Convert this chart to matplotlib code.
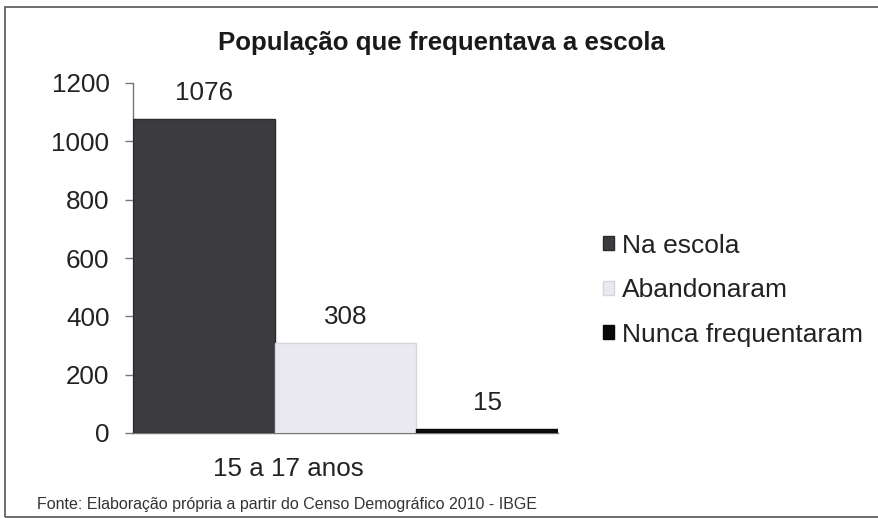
import matplotlib
matplotlib.use("Agg")
import matplotlib.pyplot as plt
from matplotlib.patches import Rectangle

plt.rcParams['font.family'] = ['Liberation Sans', 'DejaVu Sans']

title = "População que frequentava a escola"
category = "15 a 17 anos"
series = ["Na escola", "Abandonaram", "Nunca frequentaram"]
values = [1076, 308, 15]
colors = ["#3b3b40", "#e9e9ef", "#0a0a0a"]
edgecolors = ["#2a2a2e", "#d6d6dc", "#0a0a0a"]
yticks = [0, 200, 400, 600, 800, 1000, 1200]
source = "Fonte: Elaboração própria a partir do Censo Demográfico 2010 - IBGE"

W, H = 879, 518
fig = plt.figure(figsize=(W/100, H/100), dpi=100)
fig.patch.set_facecolor("white")

# outer frame
fig.patches.append(Rectangle((5/W, 1-517/H), 1.0, (517-7)/H, transform=fig.transFigure,
                             fill=False, edgecolor="#555555", linewidth=1.2))

FS = 18.7
ax = fig.add_axes([133/W, 1-433/H, 425/W, 350/H])
xs = list(range(len(values)))
bars = ax.bar(xs, values, width=1.0, color=colors, edgecolor=edgecolors, linewidth=1,
              label=series, zorder=3)
ax.set_xlim(-0.5, len(values) - 0.5)
ax.set_ylim(0, 1200)
ax.set_yticks(yticks)
ax.set_yticklabels([str(t) for t in yticks], fontsize=FS, color="#222222")
ax.tick_params(axis='y', direction='out', length=6, width=1, color="#777777", pad=11)
ax.set_xticks([0.6])
ax.set_xticklabels([category], fontsize=FS, color="#222222")
ax.tick_params(axis='x', length=0, pad=17)
for s in ["top", "right"]:
    ax.spines[s].set_visible(False)
for s in ["left", "bottom"]:
    ax.spines[s].set_color("#777777")
    ax.spines[s].set_linewidth(1)

for x, v in zip(xs, values):
    ax.annotate(str(v), (x, v), xytext=(0, 10), textcoords="offset points",
                ha="center", va="bottom", fontsize=FS, color="#222222")

fig.text(441/W, 1-43/H, title, ha="center", va="center", fontsize=18.6, fontweight="bold",
         color="#1a1a1a")
fig.text(37/W, 1-504/H, source, ha="left", va="center", fontsize=11.5, color="#333333")

leg = fig.legend(handles=bars, labels=series, loc="upper left",
                 bbox_to_anchor=(592/W, 1-223/H), frameon=False, fontsize=19,
                 handlelength=0.45, handleheight=0.45, handletextpad=0.3,
                 labelspacing=0.78, borderaxespad=0)
for t in leg.get_texts():
    t.set_color("#222222")

fig.savefig("out.png", dpi=100)
